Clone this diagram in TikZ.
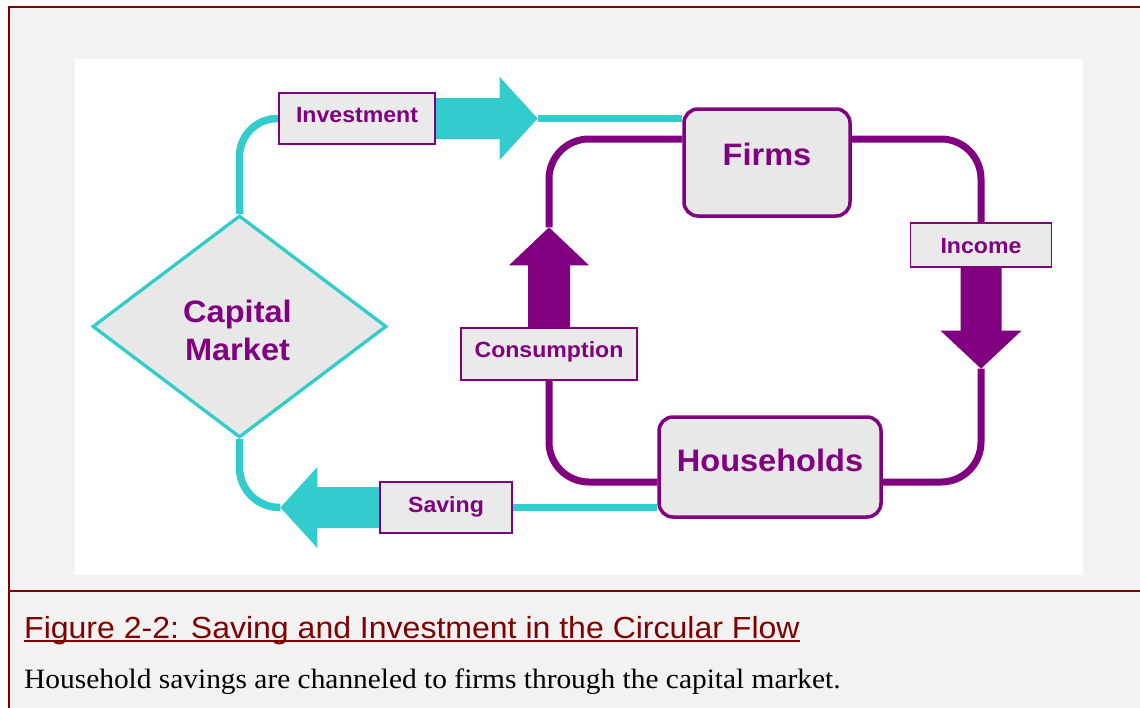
\documentclass[tikz,border=0pt]{standalone}
\usepackage{fontspec}
\usetikzlibrary{shapes.geometric,calc}
\newfontfamily\labfont[FakeStretch=1.05]{Liberation Sans}
\newfontfamily\serfont[FakeStretch=1.05]{Liberation Serif}
\definecolor{tealc}{HTML}{33CCCC}
\definecolor{purp}{HTML}{800080}
\definecolor{boxg}{HTML}{E8E8E8}
\definecolor{labg}{HTML}{EAEAEA}
\definecolor{darkred}{HTML}{800000}
\definecolor{pageg}{HTML}{F2F2F2}
\pgfdeclarelayer{back}\pgfdeclarelayer{bg}\pgfsetlayers{back,bg,main}
\begin{document}
\begin{tikzpicture}[x=1pt,y=-1pt,
 lab/.style={draw=purp, line width=1.3pt, fill=labg, inner sep=0pt, text=purp, font=\labfont\bfseries\fontsize{22}{26}\selectfont, text height=16pt},
 bigbox/.style={draw=purp, line width=3.5pt, fill=boxg, rounded corners=14pt, inner sep=0pt, text=purp, font=\labfont\bfseries\fontsize{31}{36}\selectfont, text height=22pt},
 tealline/.style={draw=tealc, line width=7.5pt},
 purpline/.style={draw=purp, line width=7pt, rounded corners=40pt}]
\useasboundingbox (0,0) rectangle (1140,707);
\begin{pgfonlayer}{back}
\fill[white] (0,0) rectangle (1140,707);
\draw[fill=pageg, draw=darkred, line width=1.5pt] (9,7) rectangle (1160,730);
\draw[darkred, line width=1.5pt] (9,591) -- (1160,591);
\fill[white] (75,59) rectangle (1083,575);
\end{pgfonlayer}

% nodes
\node[diamond, draw=tealc, line width=3.3pt, fill=boxg, minimum width=294pt, minimum height=222pt, inner sep=0pt] (cm) at (239.5,326.5) {};
\node[font=\labfont\bfseries\fontsize{31}{38}\selectfont, text=purp, align=center, anchor=north, inner sep=0pt] (cmt) at (237.5,300) {Capital\\Market};
\node[bigbox, minimum width=166pt, minimum height=107pt, text depth=17pt] (firms) at (767,162.5) {Firms};
\node[bigbox, minimum width=222pt, minimum height=100pt, text depth=14pt] (hh) at (770,467) {Households};
\node[lab, minimum width=156pt, minimum height=51pt, text depth=9pt] (inv) at (357,118.5) {Investment};
\node[lab, minimum width=132pt, minimum height=51pt, text depth=7pt] (sav) at (446,507.5) {Saving};
\node[lab, minimum width=176pt, minimum height=52pt, text depth=10pt] (con) at (549,354) {Consumption};
\node[lab, minimum width=141pt, minimum height=44pt, text depth=0pt] (inc) at (981,245) {Income};

% caption
\node[anchor=base west, inner sep=0pt, text=darkred, font=\labfont\fontsize{30.5}{36}\selectfont] (cap) at (24,638) {Figure 2-2: Saving and Investment in the Circular Flow};
\draw[darkred, line width=2.5pt] ([yshift=-3pt]cap.base west) -- ([yshift=-3pt]cap.base east);
\node[anchor=base west, inner sep=0pt, font=\serfont\fontsize{28}{34}\selectfont] (sub) at (24,688) {Household savings are channeled to firms through the capital market.};

% connectors
\begin{pgfonlayer}{bg}
\draw[tealline, rounded corners=38pt] (cm.north) |- (inv.west);
\fill[tealc] ([yshift=20.5pt]inv.east) -- ++(64,0) -- ++(0,-21) -- ++(38,41.5) coordinate (invtip) -- ++(-38,41.5) -- ++(0,-21) -- ([yshift=-20.5pt]inv.east) -- cycle;
\draw[tealline] (invtip) -- (invtip -| firms.west);
\fill[tealc] ([yshift=20.5pt]sav.west) -- ++(-62,0) -- ++(0,-20) -- ++(-37,40.5) coordinate (savtip) -- ++(37,40.5) -- ++(0,-20) -- ([yshift=-20.5pt]sav.west) -- cycle;
\draw[tealline, rounded corners=40pt] (savtip) -| (cm.south);
\draw[tealline] (sav.east) -- (sav.east -| hh.west);
\fill[purp] ([xshift=-21pt]con.north) -- ++(0,-62) -- ++(-19,0) -- ++(40,-38) coordinate (contip) -- ++(40,38) -- ++(-19,0) -- ([xshift=21pt]con.north) -- cycle;
\draw[purpline] (contip) |- ([yshift=23.5pt]firms.west);
\draw[purpline] (con.south) |- ([yshift=-15pt]hh.west);
\fill[purp] ([xshift=-20.5pt]inc.south) -- ++(0,63) -- ++(-20,0) -- ++(40.5,38) coordinate (inctip) -- ++(40.5,-38) -- ++(-20,0) -- ([xshift=20.5pt]inc.south) -- cycle;
\draw[purpline] ([yshift=23.5pt]firms.east) -| (inc.north);
\draw[purpline] ([yshift=-15pt]hh.east) -| (inctip);
\end{pgfonlayer}
\end{tikzpicture}
\end{document}
